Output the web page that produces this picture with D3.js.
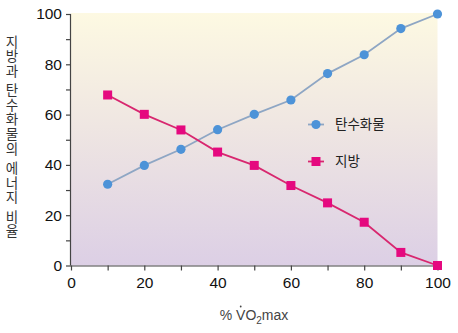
<!DOCTYPE html>
<html><head><meta charset="utf-8">
<script src="https://d3js.org/d3.v7.min.js"></script>
<style>
html,body{margin:0;padding:0;background:#fff;}
svg{display:block;}
</style></head>
<body>
<svg id="c" width="458" height="333"></svg>
<script>
const intensity = [10, 20, 30, 40, 50, 60, 70, 80, 90, 100];
const carbs = [32.3, 39.8, 46.2, 54, 60.1, 65.8, 76.3, 83.8, 94.2, 100];
const fat = [67.8, 60.1, 53.9, 45.1, 39.8, 31.8, 24.9, 17.2, 5.2, 0];
const seriesNames = ["탄수화물", "지방"];
const xTicks = [0, 20, 40, 60, 80, 100];
const yTicks = [0, 20, 40, 60, 80, 100];
const yLabel = "지방과 탄수화물의 에너지 비율";

const svg = d3.select("#c");
const m = {l: 71, r: 20.5, t: 14, b: 67.5};
const W = 458, H = 333;
const x = d3.scaleLinear().domain([0, 100]).range([m.l, W - m.r]);
const y = d3.scaleLinear().domain([0, 100]).range([H - m.b, m.t]);

const defs = svg.append("defs");
const g = defs.append("linearGradient").attr("id", "bg").attr("x1", 0).attr("y1", 0).attr("x2", 0).attr("y2", 1);
g.append("stop").attr("offset", "0%").attr("stop-color", "#fdf9e2");
g.append("stop").attr("offset", "45%").attr("stop-color", "#efe6e2");
g.append("stop").attr("offset", "100%").attr("stop-color", "#dccfe5");

svg.append("rect").attr("x", x(0)).attr("y", y(100) - 1).attr("width", x(100) - x(0)).attr("height", y(0) - y(100) + 1).attr("fill", "url(#bg)");

const font = "'Liberation Sans', Arial, sans-serif";
// axes
const xAxis = d3.axisBottom(x).tickValues(d3.range(0, 101, 10)).tickSize(5).tickFormat(d => xTicks.includes(d) ? d : "");
const yAxis = d3.axisLeft(y).tickValues(d3.range(0, 101, 10)).tickSize(5).tickFormat(d => yTicks.includes(d) ? d : "");
const gx = svg.append("g").attr("transform", `translate(0,${y(0)})`).call(xAxis);
const gy = svg.append("g").attr("transform", `translate(${x(0)},0)`).call(yAxis);
[gx, gy].forEach(a => {
  a.select(".domain").attr("stroke", "#444").attr("stroke-width", 1.2);
  a.selectAll(".tick line").attr("stroke", "#444").attr("stroke-width", 1.2);
  a.selectAll("text").attr("font-family", font).attr("font-size", 15.5).attr("fill", "#111");
});
gx.select(".domain").attr("d", `M${x(0)},0.5H${x(100)}`);
gy.select(".domain").attr("d", `M-0.5,${y(0)}V${y(100)}`);
gx.selectAll("text").attr("dy", "0.95em");
gy.selectAll("text").attr("dx", "-1px");

// lines
const line = d3.line().x((d, i) => x(intensity[i])).y(d => y(d));
svg.append("path").datum(carbs).attr("d", line).attr("fill", "none").attr("stroke", "#8ea6c4").attr("stroke-width", 1.8);
svg.append("path").datum(fat).attr("d", line).attr("fill", "none").attr("stroke", "#d8276f").attr("stroke-width", 1.8);
svg.selectAll(".cm").data(carbs).enter().append("circle")
  .attr("cx", (d, i) => x(intensity[i])).attr("cy", d => y(d)).attr("r", 4.6).attr("fill", "#4d93d8");
const s = 9;
svg.selectAll(".fm").data(fat).enter().append("rect")
  .attr("x", (d, i) => x(intensity[i]) - s / 2).attr("y", d => y(d) - s / 2).attr("width", s).attr("height", s).attr("fill", "#e5097f");

// legend
const lg = [
  {name: seriesNames[0], y: 124.5, c: "#8ea6c4", m: "#4d93d8", shape: "circle"},
  {name: seriesNames[1], y: 161.5, c: "#d8276f", m: "#e5097f", shape: "rect"}
];
lg.forEach(d => {
  svg.append("line").attr("x1", 308).attr("x2", 324).attr("y1", d.y).attr("y2", d.y).attr("stroke", d.c).attr("stroke-width", 1.8);
  if (d.shape === "circle") svg.append("circle").attr("cx", 316).attr("cy", d.y).attr("r", 4.6).attr("fill", d.m);
  else svg.append("rect").attr("x", 316 - s / 2).attr("y", d.y - s / 2).attr("width", s).attr("height", s).attr("fill", d.m);
  svg.append("text").attr("x", 335).attr("y", d.y).attr("dy", "0.36em").attr("font-family", "'Noto Sans CJK KR', sans-serif")
    .attr("font-size", 13.5).attr("fill", "#222").text(d.name);
});

// y label (vertical, upright): one text, one tspan per character
const yl = svg.append("text").attr("font-family", "'Noto Sans CJK KR', sans-serif").attr("font-size", 13.5)
  .attr("fill", "#333").attr("text-anchor", "middle");
let cy = 46.5;
Array.from(yLabel).forEach(ch => {
  if (ch === " ") { cy += 4.8; return; }
  yl.append("tspan").attr("x", 12).attr("y", cy).text(ch);
  cy += 14.6;
});

// x label
const xl = svg.append("text").attr("x", 254).attr("y", 320).attr("text-anchor", "middle")
  .attr("font-family", font).attr("font-size", 14).attr("fill", "#444");
xl.append("tspan").text("% VO");
xl.append("tspan").attr("font-size", 10).attr("dy", 4).text("2");
xl.append("tspan").attr("dy", -4).text("max");
// dot over V
const n = xl.node();
const vs = n.getStartPositionOfChar(2), ve = n.getEndPositionOfChar(2);
svg.append("circle").attr("cx", (vs.x + ve.x) / 2).attr("cy", 320 - 13.5).attr("r", 0.9).attr("fill", "#444");
</script>
</body></html>
